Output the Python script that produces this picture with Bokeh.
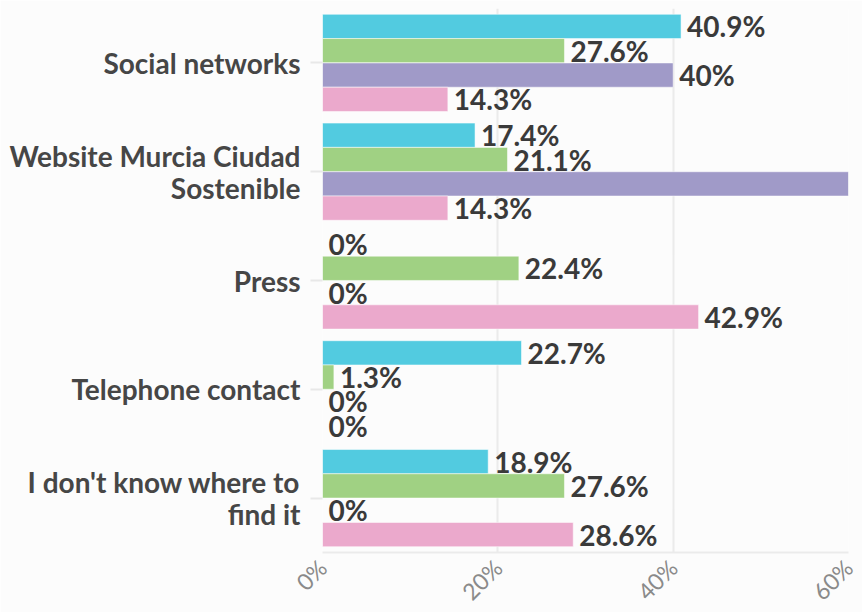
from bokeh.plotting import figure
from bokeh.models import FactorRange, Range1d, FixedTicker, ColumnDataSource
from bokeh.transform import dodge
from bokeh.core.properties import value
from bokeh.embed import file_html
from bokeh.resources import INLINE
import math

categories = ["Social networks", "Website Murcia Ciudad\nSostenible", "Press",
              "Telephone contact", "I don't know where to\nfind it"]
series_a = [40.9, 17.4, 0, 22.7, 18.9]
series_b = [27.6, 21.1, 22.4, 1.3, 27.6]
series_c = [40, 60, 0, 0, 0]
series_d = [14.3, 14.3, 42.9, 0, 28.6]
x_ticks = [0, 20, 40, 60]
x_tick_labels = ["0%", "20%", "40%", "60%"]
x_max = 60

colors = ["#52cbe0", "#a0d183", "#a09ac8", "#eba9cc"]
offsets = [0.335, 0.112, -0.112, -0.335]
series = [series_a, series_b, series_c, series_d]

FONT = "Lato"

p = figure(y_range=FactorRange(factors=list(reversed(categories))),
           x_range=Range1d(0, x_max),
           frame_width=526, frame_height=544,
           min_border_left=322, min_border_right=14, min_border_top=8, min_border_bottom=60,
           output_backend="svg", toolbar_location=None)
p.background_fill_color = "#fcfcfc"
p.border_fill_color = "#fcfcfc"
p.outline_line_color = None

for vals, col, off in zip(series, colors, offsets):
    # labels past the visible axis end are hidden, as in the reference
    lbls = [f"{v:g}%" if v < x_max else "" for v in vals]
    src = ColumnDataSource(dict(cat=categories, v=vals, lbl=lbls))
    p.hbar(y=dodge("cat", off, range=p.y_range), right="v", left=0, height=0.223,
           source=src, fill_color=col, line_color="#ffffff", line_alpha=0.5, line_width=1)
    p.text(x="v", y=dodge("cat", off, range=p.y_range), text="lbl", source=src,
           x_offset=6, text_baseline="middle", text_align="left",
           text_font=value(FONT), text_font_style="bold", text_font_size="28px",
           text_color="#3a3a3a")

p.xaxis.ticker = FixedTicker(ticks=x_ticks)
p.xaxis.major_label_overrides = {t: l for t, l in zip(x_ticks, x_tick_labels)}
p.xaxis.major_label_orientation = math.pi / 4
p.xaxis.major_label_text_font = FONT
p.xaxis.major_label_text_font_size = "23px"
p.xaxis.major_label_text_color = "#8a8a8a"
p.xaxis.axis_line_color = "#ebebeb"
p.xaxis.axis_line_width = 2
p.xaxis.major_tick_line_color = None
p.xaxis.minor_tick_line_color = None

p.yaxis.major_label_text_font = FONT
p.yaxis.major_label_text_font_style = "bold"
p.yaxis.major_label_text_font_size = "28px"
p.yaxis.major_label_text_line_height = 0.95
p.yaxis.major_label_text_color = "#464646"
p.yaxis.axis_line_color = None
p.yaxis.major_tick_line_color = "#e8e8e8"
p.yaxis.major_tick_line_width = 2
p.yaxis.major_tick_out = 12
p.yaxis.major_tick_in = 0
p.yaxis.major_label_standoff = 10

p.ygrid.grid_line_color = None
p.xgrid.grid_line_color = "#ebebeb"
p.xgrid.grid_line_width = 2

open("out.html", "w").write(file_html(p, INLINE))
